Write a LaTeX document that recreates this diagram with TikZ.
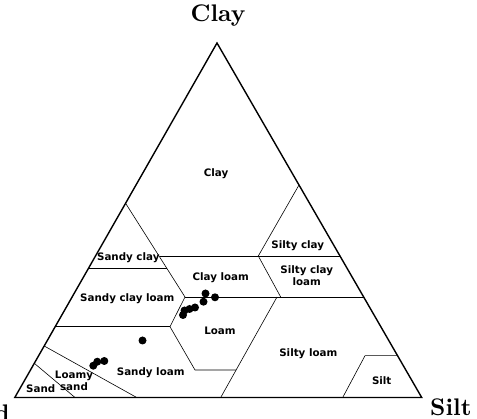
\documentclass[tikz,border=0pt]{standalone}
\usepackage{fontspec}
\newfontfamily\regionfont{DejaVu Sans}
\newfontfamily\axisfont{lmroman10-bold.otf}

\tikzset{
  region/.style={font=\regionfont\bfseries\fontsize{10.3}{11.8}\selectfont, align=center, inner sep=0pt},
  apex/.style={font=\axisfont\fontsize{24}{26}\selectfont, inner sep=0pt},
  border/.style={line width=1.4pt, line join=miter},
  limit/.style={line width=0.6pt},
}

\begin{document}
\begin{tikzpicture}[x=1pt,y=-1pt]
\useasboundingbox (0,0) rectangle (477,419) ;

\draw[border] (14.8,397.5) -- (217,43) -- (421.7,397.5) -- cycle ;

\draw[limit] (125.6,203.3) -- (185,297) -- (170,326.7) -- (195,370) -- (236,370) ;
\draw[limit] (159.5,256) -- (340,256) ;
\draw[limit] (88.3,268.7) -- (167,268.7) ;
\draw[limit] (185,297) -- (363.7,297) ;
\draw[limit] (299,185) -- (258.3,256) -- (280.7,297) ;
\draw[limit] (277,297) -- (220.7,397.5) ;
\draw[limit] (55.2,326.7) -- (170,326.7) ;
\draw[limit] (44.2,346) -- (136.7,397.5) ;
\draw[limit] (34.3,363.3) -- (75,397.5) ;
\draw[limit] (397.6,355.7) -- (365,355.7) -- (342.7,397.5) ;

\node[apex, anchor=base] (clayaxis) at (218,22) {Clay} ;
\node[apex, anchor=base west] (siltaxis) at (430,416) {Silt} ;
\node[apex, anchor=base east] (sandaxis) at (10,422) {Sand} ;

\node[region] (clay) at (216,174) {Clay} ;
\node[region] (sandyclay) at (128.3,257.3) {Sandy clay} ;
\node[region] (siltyclay) at (297.7,246) {Silty clay} ;
\node[region] (siltyclayloam) at (306.7,275.3) {Silty clay\\loam} ;
\node[region] (clayloam) at (220.7,277.3) {Clay loam} ;
\node[region] (sandyclayloam) at (127.3,299) {Sandy clay loam} ;
\node[region] (loam) at (220,331) {Loam} ;
\node[region] (siltyloam) at (308.3,353.3) {Silty loam} ;
\node[region] (silt) at (381.7,380.7) {Silt} ;
\node[region] (sandyloam) at (150.7,372.7) {Sandy loam} ;
\node[region] (loamysand) at (74,381) {Loamy\\sand} ;
\node[region] (sand) at (40.7,389) {Sand} ;

\fill (205.5,293.5) circle (4) ;
\fill (215,297.3) circle (4) ;
\fill (203.5,301.7) circle (4) ;
\fill (195,307.5) circle (4) ;
\fill (189.5,309) circle (4) ;
\fill (184.5,310.5) circle (4) ;
\fill (183,315) circle (4) ;
\fill (142.5,340.5) circle (4) ;
\fill (97.3,361.7) circle (4) ;
\fill (104.3,361) circle (4) ;
\fill (93.3,365.7) circle (4) ;

\end{tikzpicture}
\end{document}
